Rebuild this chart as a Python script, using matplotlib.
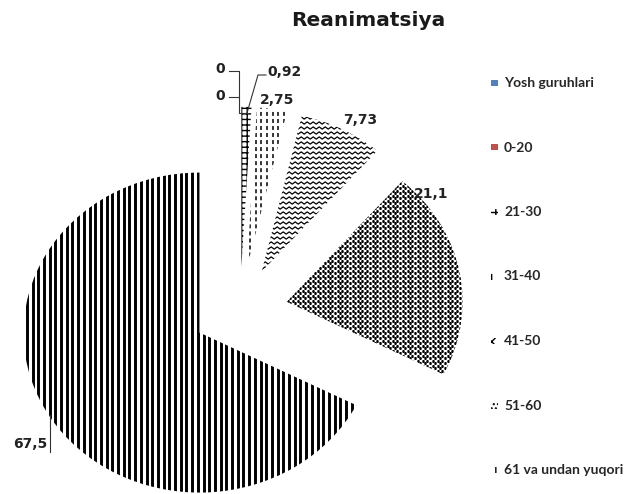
import numpy as np
import matplotlib
matplotlib.use("Agg")
import matplotlib.pyplot as plt
from matplotlib.patches import Rectangle
from matplotlib.collections import LineCollection

# data
groups = ["Yosh guruhlari", "0-20", "21-30", "31-40", "41-50", "51-60", "61 va undan yuqori"]
values = [0, 0, 0.92, 2.75, 7.73, 21.1, 67.5]
value_labels = ["0", "0", "0,92", "2,75", "7,73", "21,1", "67,5"]
title = "Reanimatsiya"

W, H = 643, 494
SX, SY = 176.0, 160.0   # pixels per data unit (pie is a bit wider than tall)
CX, CY = 240.0, 310.0   # pie centre in pixels


def px(x, y):
    # pixel position (from top left) -> data coords
    return (x - CX) / SX, (CY - y) / SY


fig = plt.figure(figsize=(W / 100, H / 100), dpi=100)
ax = fig.add_axes([0, 0, 1, 1])

colors = ["#4F81BD", "#C0504D"] + ["white"] * 5
wedges, _ = ax.pie(values, startangle=90, counterclock=False, explode=[0.27] * len(values),
                   colors=colors, wedgeprops=dict(linewidth=0, edgecolor="black"))
ax.set_aspect("auto")
ax.set_xlim(px(0, 0)[0], px(W, 0)[0])
ax.set_ylim(px(0, H)[1], px(0, 0)[1])
ax.axis("off")

# 21-30 : small ladder like pattern
wedges[2].set_hatch("+++")

# 31-40 : dashed vertical lines
xs = np.arange(-0.3, 0.6, 5.7 / SX)
lc = ax.vlines(xs, -0.5, 1.6, colors="black", linewidth=1.1, linestyles=[(0, (2.6, 2.0))])
lc.set_clip_path(wedges[3])

# 41-50 : zigzag rows
segs = []
zx = np.arange(-0.3, 1.2, 3.0 / SX)
for y0 in np.arange(-0.3, 1.6, 5.0 / SY):
    zy = y0 + np.where(np.arange(len(zx)) % 2 == 0, 1.1, -1.1) / SY
    segs.append(np.column_stack([zx, zy]))
zz = LineCollection(segs, colors="black", linewidths=0.9)
ax.add_collection(zz)
zz.set_clip_path(wedges[4])

# 51-60 : dotted
dots_x, dots_y = [], []
for k, y0 in enumerate(np.arange(-0.8, 1.2, 2.5 / SY)):
    row = np.arange(0.0, 1.6, 5.0 / SX) + (2.5 / SX if k % 2 else 0)
    dots_x.extend(row)
    dots_y.extend([y0] * len(row))
sc = ax.scatter(dots_x, dots_y, s=3.0, marker="s", color="black", linewidths=0)
sc.set_snap(False)
sc.set_clip_path(wedges[5])

# 61+ : thick vertical stripes
xs = np.arange(-1.6, 0.8, 5.7 / SX)
lc2 = ax.vlines(xs, -1.6, 1.2, colors="black", linewidth=2.1)
lc2.set_clip_path(wedges[6])

# data labels
lab_pos = [(220, 69), (220, 96), (285, 72), (277, 100), (360, 120), (431, 194), (30, 444)]
for txt, (lx, ly) in zip(value_labels, lab_pos):
    ax.text(*px(lx, ly), txt, ha="center", va="center", fontsize=10,
            fontweight="bold", family="DejaVu Sans", color="#222222")

leaders = [
    [(229, 71), (239, 71), (239, 113), (247, 113)],
    [(229, 97), (239, 97)],
    [(247, 113), (258, 75), (266, 75)],
    [(50, 415), (50, 452)],
]
for ln in leaders:
    pts = np.array([px(a, b) for a, b in ln])
    ax.plot(pts[:, 0], pts[:, 1], color="#333333", linewidth=0.8)

fig.text(368 / W, 1 - 20 / H, title, ha="center", va="center", fontsize=14.5,
         fontweight="bold", family="DejaVu Sans", color="#1a1a1a")

# legend (drawn by hand to keep the big gaps between entries)
swatch_hatch = [None, None, "++", "|", "xx", "....", "||"]
for i, name in enumerate(groups):
    y = 83 + i * 64.5
    r = Rectangle((491 / W, 1 - (y + 3) / H), 7 / W, 6 / H, transform=fig.transFigure,
                  facecolor=colors[i], edgecolor="black", linewidth=0, hatch=swatch_hatch[i])
    fig.add_artist(r)
    fig.text(504 / W, 1 - y / H, name, ha="left", va="center", fontsize=10,
             fontweight="bold", family="Lato", color="#262626")

fig.savefig("out.png", dpi=100)
